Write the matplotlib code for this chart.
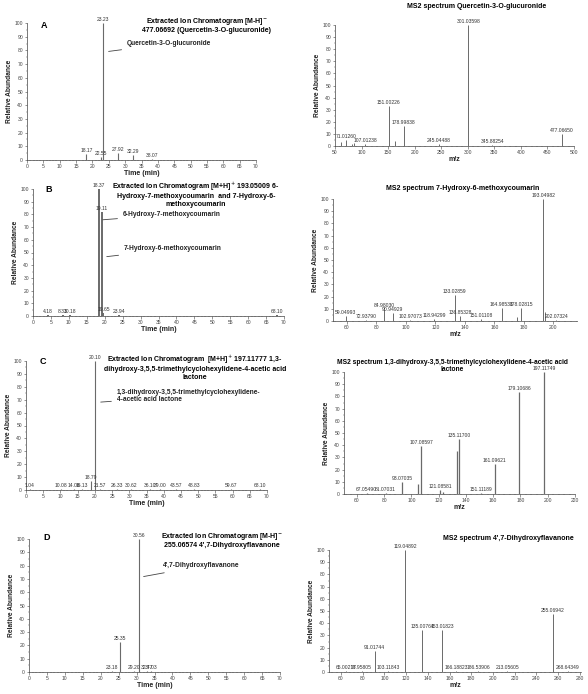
import matplotlib.pyplot as plt
from matplotlib.ticker import MultipleLocator, AutoMinorLocator

plt.rcParams['font.family'] = ['Liberation Sans', 'DejaVu Sans']

# ---- data: chromatograms (time, relative abundance, label) ----
a_rt = [18.17, 22.55, 23.23, 27.92, 32.29, 38.07]
a_ab = [4.4, 2.0, 100, 5.0, 3.5, 1.0]
a_lb = ["18.17", "22.55", "23.23", "27.92", "32.29", "38.07"]

b_rt = [4.18, 8.33, 10.18, 18.37, 19.11, 19.65, 23.94, 68.10]
b_ab = [1.0, 1.0, 1.0, 100, 82, 2.0, 1.0, 1.0]
b_lb = ["4.18", "8.33", "10.18", "18.37", "19.11", "19.65", "23.94", "68.10"]

c_rt = [1.04, 10.08, 14.06, 16.13, 18.79, 20.10, 21.57, 26.33, 30.62, 36.10,
        39.00, 43.57, 48.83, 59.67, 68.10]
c_ab = [1, 1, 1, 1, 7, 100, 1, 1, 1, 1, 1, 1, 1, 1, 1]
c_lb = ["1.04", "10.08", "14.06", "16.13", "18.79", "20.10", "21.57", "26.33",
        "30.62", "36.10", "39.00", "43.57", "48.83", "59.67", "68.10"]

d_rt = [23.18, 25.35, 29.20, 30.56, 32.77, 34.03]
d_ab = [1, 22.6, 1, 100, 1, 1]
d_lb = ["23.18", "25.35", "29.20", "30.56", "32.77", "34.03"]

# ---- data: MS2 spectra (m/z, relative abundance, label) ----
ma_mz = [60.5, 71.01260, 82.0, 86.0, 107.01238, 163.0, 151.00226, 178.99838,
         245.04488, 301.03598, 345.88254, 477.06650]
ma_ab = [3, 4.7, 2, 2.5, 2, 4, 33, 16.3, 1.5, 100, 1, 10]
ma_lb = ["", "71.01260", "", "", "107.01238", "", "151.00226", "178.99838",
         "245.04488", "301.03598", "345.88254", "477.06650"]

mb_mz = [59.04993, 72.93790, 84.98030, 90.94929, 102.97073, 118.94299,
         133.02859, 136.85328, 151.01108, 164.98538, 175.5, 178.02815,
         193.04982, 194.05, 202.07324]
mb_ab = [4, 1, 9.6, 6.3, 1, 2, 21.4, 4, 2, 11, 3, 11, 100, 7.5, 1]
mb_lb = ["59.04993", "72.93790", "84.98030", "90.94929", "102.97073",
         "118.94299", "133.02859", "136.85328", "151.01108", "164.98538", "",
         "178.02815", "193.04982", "", "202.07324"]

mc_mz = [67.05490, 81.07031, 93.07035, 105.07, 107.08597, 121.08581, 123.1,
         133.10, 135.11700, 151.11189, 161.09621, 179.10686, 197.11749]
mc_ab = [1, 1, 10, 8, 39, 3, 2, 35, 45, 1, 24.7, 84, 100]
mc_lb = ["67.05490", "81.07031", "93.07035", "", "107.08597", "121.08581", "",
         "", "135.11700", "151.11189", "161.09621", "179.10686", "197.11749"]

md_mz = [65.00217, 78.95805, 91.01744, 103.11843, 119.04892, 135.00764,
         153.01823, 166.18823, 186.53906, 213.05605, 255.06942, 268.64349]
md_ab = [1, 1, 17, 1, 100, 34.6, 34.6, 1, 1, 1, 47.4, 1]
md_lb = ["65.00217", "78.95805", "91.01744", "103.11843", "119.04892",
         "135.00764", "153.01823", "166.18823", "186.53906", "213.05605",
         "255.06942", "268.64349"]

W, H = 588, 694
fig = plt.figure(figsize=(W / 100, H / 100), dpi=100)
fig.patch.set_facecolor("white")


def box(l, t, r, b):
    return [l / W, 1 - b / H, (r - l) / W, (b - t) / H]


def ftxt(x, y, s, **kw):
    fig.text(x / W, 1 - y / H, s, **kw)


LINE = "#6a6a6a"
TXT = "#333333"
TSIZE = 5.0


def make_axes(rect, xlim, xstep, xlabel):
    ax = fig.add_axes(box(*rect))
    ax.set_xlim(*xlim)
    ax.set_ylim(0, 100)
    ax.xaxis.set_major_locator(MultipleLocator(xstep))
    ax.yaxis.set_major_locator(MultipleLocator(10))
    ax.xaxis.set_minor_locator(AutoMinorLocator(5))
    ax.yaxis.set_minor_locator(AutoMinorLocator(2))
    for s in ["top", "right"]:
        ax.spines[s].set_visible(False)
    for s in ["left", "bottom"]:
        ax.spines[s].set_linewidth(0.5)
        ax.spines[s].set_color("#444444")
    ax.tick_params(which="major", labelsize=3.6, length=1.8, width=0.4,
                   pad=1, colors="#444444")
    ax.tick_params(which="minor", length=1.0, width=0.3, colors="#444444")
    ax.set_xlabel(xlabel, fontsize=5, fontweight="bold", labelpad=1, color="#222222")
    ax.set_ylabel("Relative Abundance", fontsize=4.8, fontweight="bold",
                  labelpad=1, color="#222222")
    ax.patch.set_alpha(0)
    return ax


def sticks(ax, xs, ys, labels, lw=0.7):
    ax.vlines(xs, 0, ys, color=LINE, linewidth=lw)
    for x, y, s in zip(xs, ys, labels):
        if s:
            ax.text(x, y + 0.8, s, ha="center", va="bottom", fontsize=3.6,
                    color=TXT, clip_on=False)


def note(ax, text, xy, xytext):
    ax.annotate(text, xy=xy, xytext=xytext, fontsize=4.8, fontweight="bold",
                color="#222222", ha="left", va="center", linespacing=1.1,
                arrowprops=dict(arrowstyle="-", color="#444444", lw=0.6))


# ---- A ----
ax = make_axes((27, 23, 256, 160), (0, 70), 5, "Time (min)")
sticks(ax, a_rt, a_ab, a_lb, lw=0.8)
note(ax, "Quercetin-3-O-glucuronide", (24.1, 79), (30.6, 85))
ftxt(44, 25, "A", fontsize=6.5, fontweight="bold", ha="center", va="center")
ftxt(207, 25, "Extracted Ion Chromatogram [M-H]$^{-}$\n477.06692 (Quercetin-3-O-glucuronide)",
     fontsize=TSIZE, fontweight="bold", ha="center", va="center", linespacing=1.1)

ax = make_axes((335, 25, 574, 146), (50, 500), 50, "m/z")
sticks(ax, ma_mz, ma_ab, ma_lb)
ftxt(477, 6, "MS2 spectrum Quercetin-3-O-glucuronide", fontsize=TSIZE,
     fontweight="bold", ha="center", va="center")

# ---- B ----
ax = make_axes((33, 189, 284, 316), (0, 70), 5, "Time (min)")
sticks(ax, b_rt, b_ab, b_lb, lw=1.4)
note(ax, "6-Hydroxy-7-methoxycoumarin", (18.7, 75.6), (25.1, 80))
note(ax, "7-Hydroxy-6-methoxycoumarin", (19.8, 46.5), (25.4, 52.8))
ftxt(49, 189, "B", fontsize=6.5, fontweight="bold", ha="center", va="center")
ftxt(196, 194, "Extracted Ion Chromatogram [M+H]$^{+}$ 193.05009 6-\n"
     "Hydroxy-7-methoxycoumarin  and 7-Hydroxy-6-\nmethoxycoumarin",
     fontsize=TSIZE, fontweight="bold", ha="center", va="center", linespacing=1.1)

ax = make_axes((333, 199, 577, 321), (50.5, 216), 20, "m/z")
sticks(ax, mb_mz, mb_ab, mb_lb)
ftxt(463, 189, "MS2 spectrum 7-Hydroxy-6-methoxycoumarin", fontsize=TSIZE,
     fontweight="bold", ha="center", va="center")

# ---- C ----
ax = make_axes((26, 361, 267, 490), (0, 70), 5, "Time (min)")
sticks(ax, c_rt, c_ab, c_lb, lw=0.8)
note(ax, "1,3-dihydroxy-3,5,5-trimethylcyclohexylidene-\n4-acetic acid lactone",
     (20.9, 68), (26.4, 73))
ftxt(43, 361, "C", fontsize=6.5, fontweight="bold", ha="center", va="center")
ftxt(195, 367, "Extracted Ion Chromatogram  [M+H]$^{+}$ 197.11777 1,3-\n"
     "dihydroxy-3,5,5-trimethylcyclohexylidene-4-acetic acid\nlactone",
     fontsize=TSIZE, fontweight="bold", ha="center", va="center", linespacing=1.1)

ax = make_axes((344, 372, 575, 494), (50.5, 220), 20, "m/z")
sticks(ax, mc_mz, mc_ab, mc_lb, lw=0.9)
ftxt(452, 366, "MS2 spectrum 1,3-dihydroxy-3,5,5-trimethylcyclohexylidene-4-acetic acid\nlactone",
     fontsize=4.8, fontweight="bold", ha="center", va="center", linespacing=1.1)

# ---- D ----
ax = make_axes((29, 539, 280, 672), (0, 70), 5, "Time (min)")
sticks(ax, d_rt, d_ab, d_lb, lw=0.8)
note(ax, "4',7-Dihydroxyflavanone", (31.2, 71.4), (37.4, 79.7))
ftxt(47, 538, "D", fontsize=6.5, fontweight="bold", ha="center", va="center")
ftxt(222, 540, "Extracted Ion Chromatogram [M-H]$^{-}$\n255.06574 4',7-Dihydroxyflavanone",
     fontsize=TSIZE, fontweight="bold", ha="center", va="center", linespacing=1.1)

ax = make_axes((329, 550, 581, 672), (49, 281), 20, "m/z")
sticks(ax, md_mz, md_ab, md_lb)
ftxt(508, 539, "MS2 spectrum 4',7-Dihydroxyflavanone", fontsize=TSIZE,
     fontweight="bold", ha="center", va="center")

fig.savefig("out.png", dpi=100, facecolor="white")
